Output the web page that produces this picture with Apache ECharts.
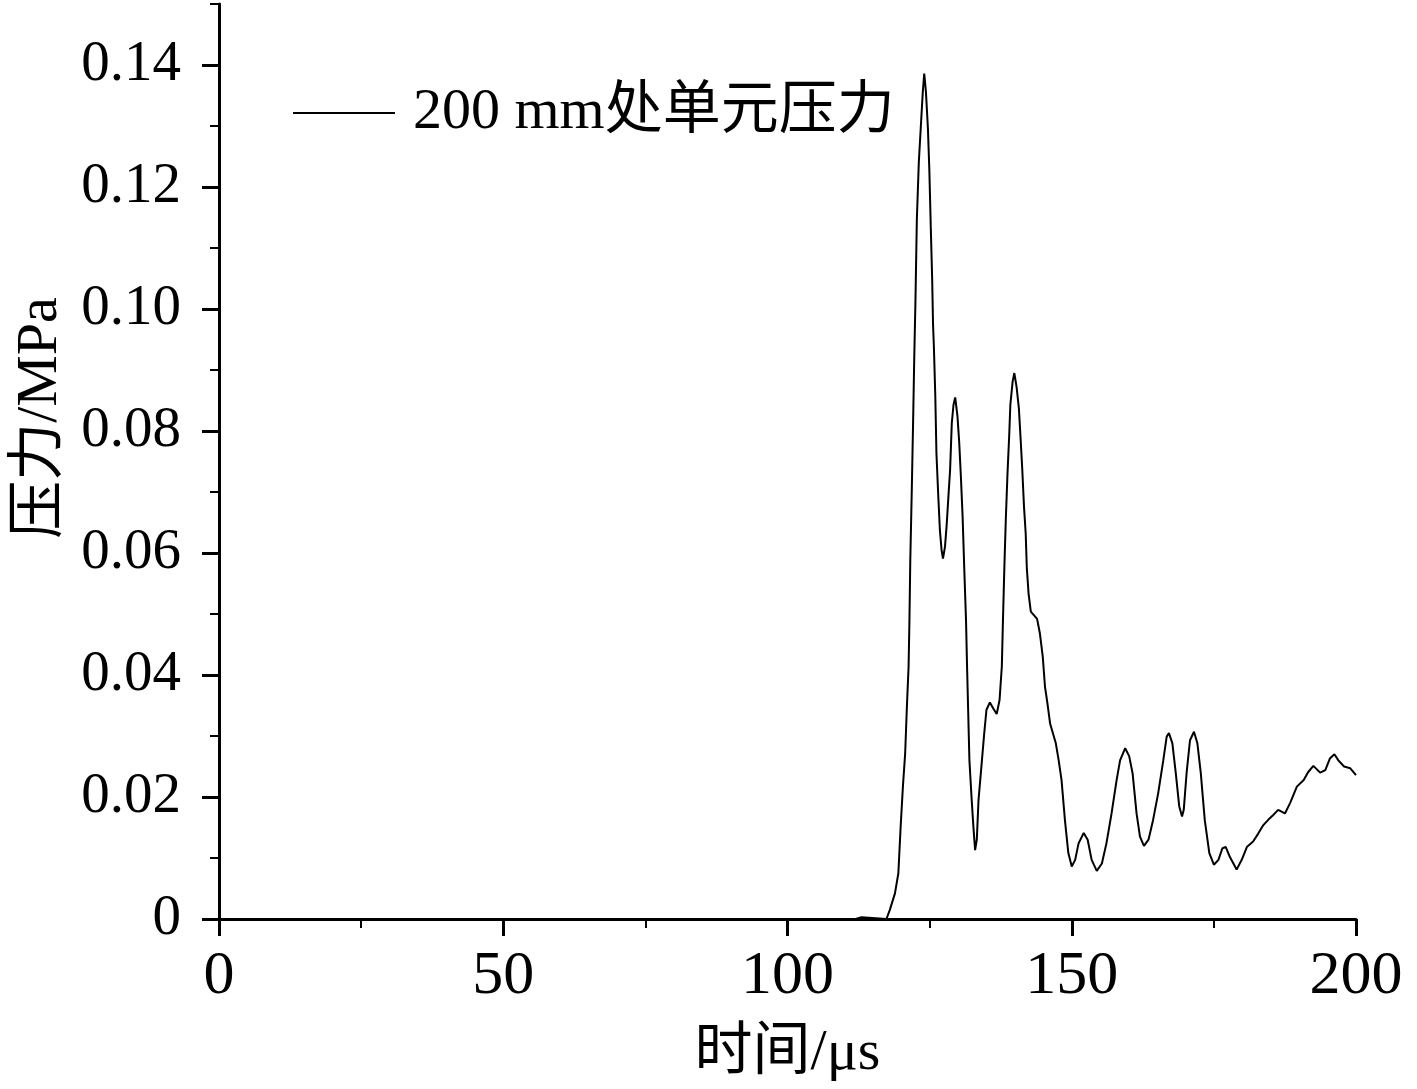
<!DOCTYPE html>
<html>
<head>
<meta charset="utf-8">
<title>200 mm处单元压力</title>
<script src="https://cdn.jsdelivr.net/npm/echarts@6.0.0/dist/echarts.min.js"></script>
<style>
   html, body { margin: 0; padding: 0; background: #fff; }
   #chart { width: 1417px; height: 1089px; }
</style>
</head>
<body>
<div id="chart"></div>
<script>
   // time in microseconds
   let timeUs = [
      0, 112.0, 112.1, 113.0, 113.1, 117.4, 118.0, 118.9, 119.5, 119.9,
      120.3, 120.7, 121.0, 121.3, 121.45, 121.6, 121.85, 122.1, 122.3, 122.5,
      122.75, 123.1, 123.5, 123.8, 124.05, 124.35, 124.7, 124.95, 125.2, 125.45,
      125.6, 125.75, 126.0, 126.2, 126.5, 126.8, 127.1, 127.35, 127.7, 128.0,
      128.3, 128.6, 128.9, 129.2, 129.5, 129.9, 130.2, 130.5, 130.8, 131.1,
      131.4, 131.6, 132.0, 132.4, 132.7, 133.0, 133.3, 133.6, 134.2, 134.6,
      135.0, 135.6, 136.2, 136.8, 137.3, 137.7, 137.9, 138.15, 138.4, 138.7,
      139.0, 139.2, 139.6, 139.9, 140.3, 140.7, 141.0, 141.3, 141.6, 141.9,
      142.1, 142.4, 142.8, 143.9, 144.4, 144.9, 145.3, 145.7, 146.2, 147.2,
      147.7, 148.2, 148.8, 149.4, 150.0, 150.6, 151.2, 152.1, 152.8, 153.5,
      154.4, 155.3, 156.1, 157.0, 157.9, 158.5, 159.4, 160.1, 160.7, 161.4,
      162.0, 162.7, 163.5, 164.3, 165.2, 166.1, 166.7, 167.1, 167.7, 168.3,
      168.9, 169.4, 169.7, 170.2, 170.8, 171.5, 172.1, 172.7, 173.4, 174.2,
      175.0, 175.8, 176.5, 177.1, 177.8, 179.0, 179.9, 180.8, 181.9, 182.8,
      183.7, 184.6, 185.4, 186.3, 187.5, 188.4, 189.6, 190.8, 191.6, 192.5,
      193.7, 194.6, 195.4, 196.2, 196.9, 197.9, 199.0, 200.0
   ];
   // pressure in MPa
   let pressureMPa = [
      0, 0, 0.0003, 0.0003, 0, 0, 0.0015, 0.0042, 0.0075, 0.0151,
      0.0217, 0.0272, 0.0348, 0.0414, 0.049, 0.0589, 0.0698, 0.0818, 0.0922, 0.1010,
      0.1146, 0.1241, 0.1307, 0.1356, 0.1386, 0.1356, 0.1296, 0.1228, 0.1135, 0.1048,
      0.0975, 0.0938, 0.0856, 0.0763, 0.0698, 0.0638, 0.0605, 0.0591, 0.0610, 0.0646,
      0.0692, 0.0736, 0.0813, 0.0843, 0.0855, 0.0824, 0.0782, 0.0725, 0.0660, 0.0572,
      0.0490, 0.0408, 0.0260, 0.0195, 0.0151, 0.0113, 0.0130, 0.0195, 0.0260, 0.0304,
      0.0343, 0.0355, 0.0345, 0.0336, 0.0359, 0.0414, 0.0490, 0.0578, 0.0655, 0.0731,
      0.0793, 0.0843, 0.0881, 0.0895, 0.0872, 0.0837, 0.0788, 0.0736, 0.0676, 0.0632,
      0.0575, 0.0534, 0.0504, 0.0492, 0.0468, 0.0430, 0.0380, 0.0355, 0.0320, 0.0288,
      0.0260, 0.0228, 0.0162, 0.0108, 0.0086, 0.0097, 0.0124, 0.0141, 0.0130, 0.0097,
      0.0079, 0.0091, 0.0124, 0.0173, 0.0228, 0.0260, 0.0280, 0.0267, 0.0239, 0.0173,
      0.0135, 0.0120, 0.0130, 0.0162, 0.0206, 0.0260, 0.0299, 0.0305, 0.0288, 0.0239,
      0.0185, 0.0168, 0.0179, 0.0239, 0.0293, 0.0307, 0.0288, 0.0239, 0.0162, 0.0108,
      0.0089, 0.0097, 0.0116, 0.0118, 0.0102, 0.0081, 0.0097, 0.0118, 0.0127, 0.0140,
      0.0154, 0.0163, 0.0170, 0.0179, 0.0173, 0.0190, 0.0217, 0.0228, 0.0241, 0.0251,
      0.0240, 0.0244, 0.0263, 0.0270, 0.0260, 0.0250, 0.0247, 0.0236
   ];
   let yMajorTicks = [0, 0.02, 0.04, 0.06, 0.08, 0.10, 0.12, 0.14];
   let seriesName = "200 mm处单元压力";
   let xTitle = "时间/μs";
   let yTitle = "压力/MPa";

   let fontFamily = "'Liberation Serif', 'Noto Sans CJK SC', serif";
   let seriesData = timeUs.map(function(t, i) {
      return [t, pressureMPa[i]];
   });

   let myChart = echarts.init(document.getElementById("chart"));
   myChart.setOption({
      animation: false,
      backgroundColor: "#fff",
      grid: { left: 219, right: 61, top: 4, bottom: 170 },
      legend: {
         left: 293,
         top: 84,
         padding: 0,
         icon: "rect",
         itemWidth: 102,
         itemHeight: 2,
         textStyle: {
            fontFamily: fontFamily,
            fontSize: 58,
            color: "#000",
            padding: [0, 0, 0, 13]
         },
         data: [seriesName]
      },
      xAxis: {
         type: "value",
         min: 0,
         max: 200,
         interval: 50,
         name: xTitle,
         nameLocation: "middle",
         nameGap: 106,
         nameTextStyle: { fontFamily: fontFamily, fontSize: 58, color: "#000" },
         splitLine: { show: false },
         axisLine: { lineStyle: { color: "#000", width: 3 } },
         axisTick: { length: 17, lineStyle: { color: "#000", width: 3 } },
         minorTick: { show: true, splitNumber: 2, length: 9, lineStyle: { color: "#000", width: 2 } },
         axisLabel: { margin: 27, fontFamily: fontFamily, fontSize: 62, color: "#000" }
      },
      yAxis: [
         {
            // axis line plus the short ticks every 0.01
            type: "value",
            position: "left",
            min: 0,
            max: 0.15,
            interval: 0.01,
            splitLine: { show: false },
            axisLine: { show: true, lineStyle: { color: "#000", width: 3 } },
            axisTick: { show: true, length: 9, lineStyle: { color: "#000", width: 2 } },
            axisLabel: { show: false }
         },
         {
            // long ticks and labels every 0.02
            type: "value",
            position: "left",
            min: 0,
            max: 0.15,
            interval: 0.02,
            splitLine: { show: false },
            axisLine: { show: false },
            axisTick: { show: true, length: 17, customValues: yMajorTicks, lineStyle: { color: "#000", width: 3 } },
            axisLabel: {
               customValues: yMajorTicks,
               margin: 38,
               fontFamily: fontFamily,
               fontSize: 57,
               color: "#000",
               formatter: function(v) {
                  return v === 0 ? "0" : v.toFixed(2);
               }
            }
         }
      ],
      graphic: [
         {
            type: "text",
            x: 41,
            y: 418,
            rotation: Math.PI / 2,
            style: {
               text: yTitle,
               fontFamily: fontFamily,
               fontSize: 58,
               fill: "#000",
               textAlign: "center",
               textVerticalAlign: "middle"
            }
         }
      ],
      series: [
         {
            name: seriesName,
            type: "line",
            yAxisIndex: 0,
            showSymbol: false,
            symbol: "none",
            smooth: false,
            lineStyle: { color: "#000", width: 2 },
            itemStyle: { color: "#000" },
            data: seriesData
         }
      ]
   });
</script>
</body>
</html>
